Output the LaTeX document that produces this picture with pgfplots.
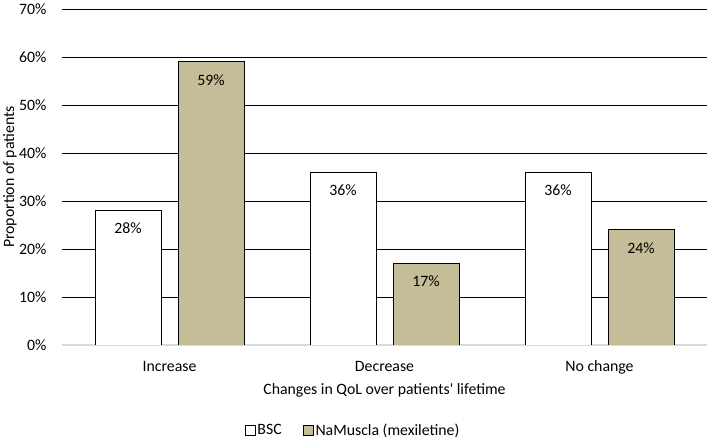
\documentclass[border=0pt]{standalone}
\usepackage{pgfplots}
\pgfplotsset{compat=1.18}
\usepackage{fontspec}
\setmainfont{Carlito}
\definecolor{tanbar}{HTML}{C4BD97}
\begin{document}
\begin{tikzpicture}
\begin{axis}[
  scale only axis,
  width=645pt, height=336pt,
  font=\fontsize{15.8}{19}\selectfont,
  /pgf/number format/assume math mode=true,
  xmin=-0.5, xmax=2.5,
  ymin=0, ymax=70,
  xtick={0,1,2},
  xticklabels={Increase,Decrease,No change},
  ytick={10,20,30,40,50,60,70},
  extra y ticks={0},
  extra y tick style={ymajorgrids=false, yticklabel={\pgfmathprintnumber{\tick}\%}},
  yticklabel={\pgfmathprintnumber{\tick}\%},
  ymajorgrids,
  grid style={black, line width=0.9pt},
  major tick length=0pt,
  axis lines*=left,
  y axis line style={draw=none},
  x axis line style={draw=black!15, line width=1.2pt},
  xticklabel style={anchor=base, yshift=-26.7pt},
  yticklabel style={anchor=east, inner sep=0pt, xshift=-15.3pt},
  xlabel={Changes in QoL over patients\textquotesingle\ lifetime},
  ylabel={Proportion of patients},
  x label style={at={(axis description cs:0.5,-0.1467)}, anchor=base},
  y label style={at={(axis description cs:-0.0744,0.5)}, anchor=base},
  ybar,
  bar width=66pt,
  nodes near coords={\pgfmathprintnumber{\pgfplotspointmeta}\%},
  every node near coord/.append style={anchor=north, inner sep=0pt, yshift=-12pt, black},
  legend columns=2,
  legend style={draw=none, fill=none, at={(axis description cs:0.4512,-0.2530)}, anchor=center,
    /tikz/every even column/.append style={column sep=19pt}},
  legend cell align=left,
  legend image code/.code={\draw[#1, line width=0.8pt] (0pt,-5pt) rectangle (10pt,5pt);},
]
\addplot[draw=black, fill=white, line width=0.9pt, bar shift=-41.5pt] coordinates {(0,28) (1,36) (2,36)};
\addplot[draw=black, fill=tanbar, line width=0.9pt, bar shift=41.5pt] coordinates {(0,59) (1,17) (2,24)};
\legend{BSC, NaMuscla (mexiletine)}
\end{axis}
\pgfresetboundingbox
\path ([xshift=-62pt,yshift=-93pt]current axis.south west) rectangle ([xshift=1pt,yshift=9pt]current axis.north east);
\end{tikzpicture}
\end{document}
